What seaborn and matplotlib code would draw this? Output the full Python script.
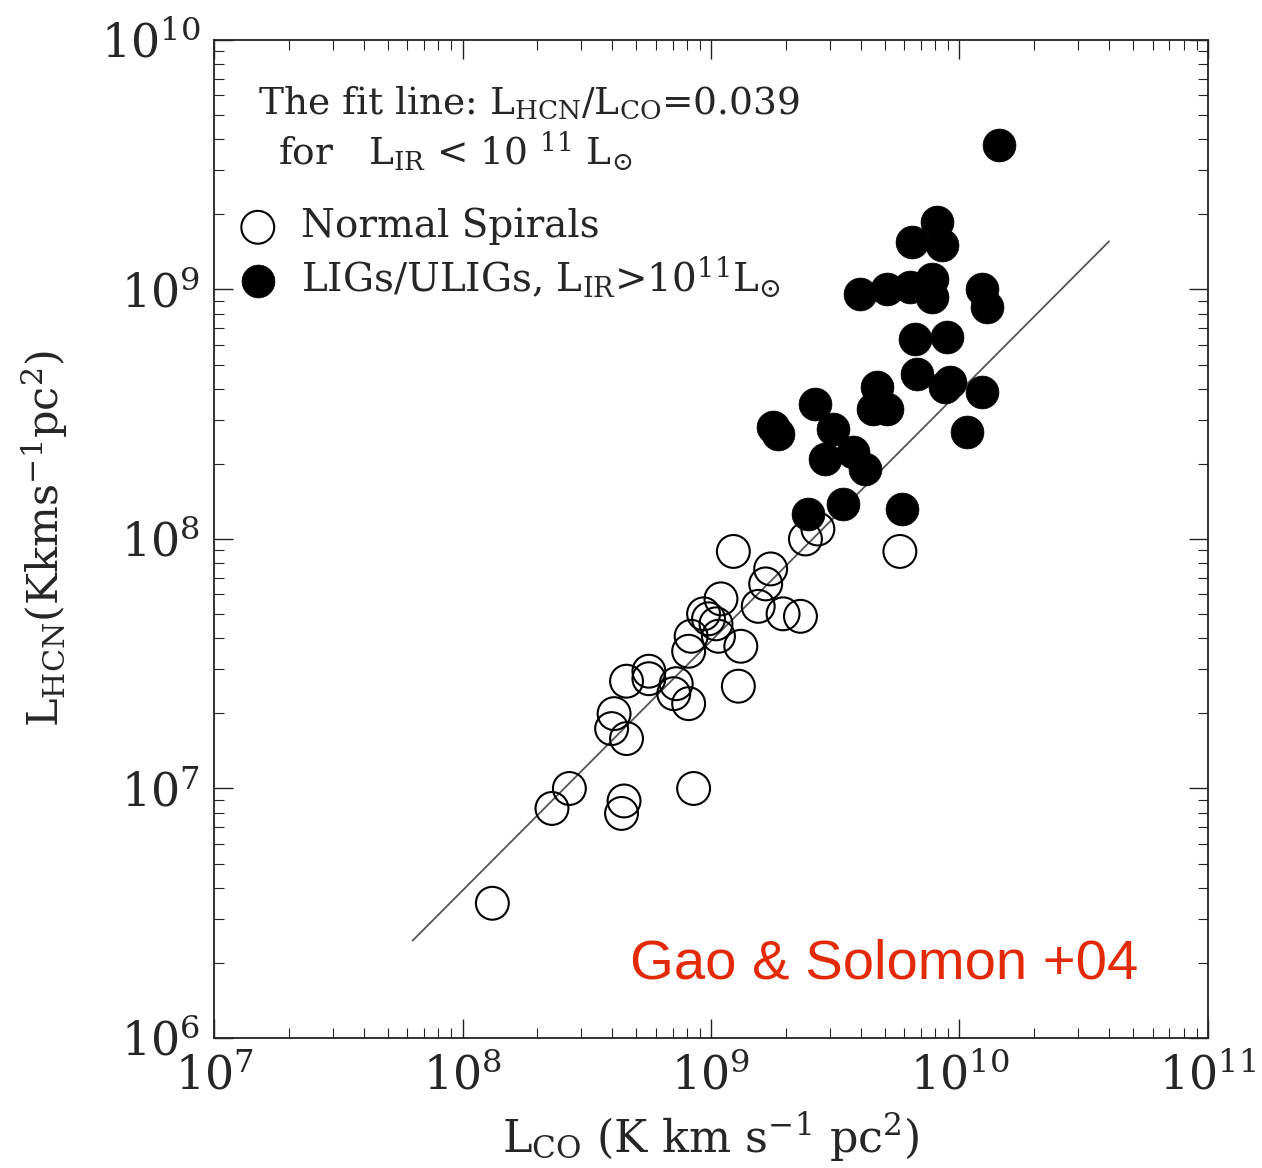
import numpy as np
import pandas as pd
import matplotlib
matplotlib.use("Agg")
import matplotlib.pyplot as plt
import seaborn as sns
from matplotlib.ticker import LogLocator, LogFormatterMathtext, NullFormatter

# ---- data (log10 values) ----
spiral_log_lco = [8.12, 8.36, 8.43, 8.65, 8.64, 8.93, 8.60, 8.61, 8.66, 8.66,
                  8.75, 8.75, 8.86, 8.85, 8.91, 8.92, 8.91, 8.97, 8.99, 9.02,
                  9.03, 9.04, 9.12, 9.11, 9.09, 9.19, 9.22, 9.24, 9.29, 9.36,
                  9.38, 9.43, 9.76]
spiral_log_lhcn = [6.54, 6.92, 7.00, 6.95, 6.90, 7.00, 7.24, 7.30, 7.20, 7.43,
                   7.47, 7.44, 7.42, 7.38, 7.34, 7.61, 7.55, 7.70, 7.68, 7.66,
                   7.61, 7.76, 7.57, 7.41, 7.95, 7.73, 7.82, 7.88, 7.70, 7.69,
                   8.00, 8.04, 7.95]

lig_log_lco = [10.16, 9.91, 9.81, 9.93, 9.89, 9.60, 9.71, 9.80, 9.89, 10.09,
               10.11, 9.82, 9.95, 9.83, 9.96, 9.94, 10.09, 10.03, 9.67, 9.65,
               9.71, 9.42, 9.25, 9.27, 9.49, 9.46, 9.57, 9.62, 9.53, 9.39, 9.77]
lig_log_lhcn = [9.58, 9.27, 9.19, 9.18, 9.04, 8.98, 9.00, 9.01, 8.97, 9.00,
                8.93, 8.80, 8.81, 8.66, 8.63, 8.61, 8.59, 8.43, 8.61, 8.52,
                8.52, 8.54, 8.45, 8.42, 8.44, 8.32, 8.35, 8.28, 8.14, 8.10, 8.12]

fit_ratio = 0.039
fit_lco_range = [6.3e7, 4.0e10]

spirals = pd.DataFrame({"LCO": 10 ** np.array(spiral_log_lco),
                        "LHCN": 10 ** np.array(spiral_log_lhcn)})
ligs = pd.DataFrame({"LCO": 10 ** np.array(lig_log_lco),
                     "LHCN": 10 ** np.array(lig_log_lhcn)})
fit = pd.DataFrame({"LCO": fit_lco_range,
                    "LHCN": [fit_ratio * v for v in fit_lco_range]})

sns.set_style("ticks")
plt.rcParams["font.family"] = ["DejaVu Serif"]
plt.rcParams["mathtext.fontset"] = "dejavuserif"

fig = plt.figure(figsize=(12.62, 11.68), dpi=100)
ax = fig.add_axes([0.1696, 0.1113, 0.7876, 0.8545])

ax.set_xscale("log")
ax.set_yscale("log")

sns.lineplot(data=fit, x="LCO", y="LHCN", ax=ax, color="#555555", linewidth=1.3)
msize = 560
sns.scatterplot(data=spirals, x="LCO", y="LHCN", ax=ax, marker="o", s=msize,
                facecolors="none", edgecolor="black", linewidth=1.5,
                label="Normal Spirals", zorder=3)
sns.scatterplot(data=ligs, x="LCO", y="LHCN", ax=ax, marker="o", s=msize,
                color="black", edgecolor="black", linewidth=0.5,
                label=r"LIGs/ULIGs, L$_{\rm IR}$>10$^{11}$L$_{\odot}$", zorder=4)

ax.set_xlim(1e7, 1e11)
ax.set_ylim(1e6, 1e10)

ax.xaxis.set_major_locator(LogLocator(base=10, numticks=10))
ax.yaxis.set_major_locator(LogLocator(base=10, numticks=10))
ax.xaxis.set_minor_locator(LogLocator(base=10, subs=np.arange(2, 10), numticks=20))
ax.yaxis.set_minor_locator(LogLocator(base=10, subs=np.arange(2, 10), numticks=20))
ax.xaxis.set_major_formatter(LogFormatterMathtext())
ax.yaxis.set_major_formatter(LogFormatterMathtext())
ax.xaxis.set_minor_formatter(NullFormatter())
ax.yaxis.set_minor_formatter(NullFormatter())

ax.tick_params(which="both", direction="in", top=True, right=True, color="#222222")
ax.tick_params(which="major", length=14, width=1.0, labelsize=33)
ax.tick_params(axis="x", which="major", pad=12)
ax.tick_params(axis="y", which="major", pad=10)
ax.tick_params(which="minor", length=7, width=0.8)
for s in ax.spines.values():
    s.set_linewidth(1.3)
    s.set_color("#222222")

ax.set_xlabel(r"L$_{\rm CO}$ (K km s$^{-1}$ pc$^2$)", fontsize=32, labelpad=8)
ax.set_ylabel(r"L$_{\rm HCN}$(Kkms$^{-1}$pc$^2$)", fontsize=31, labelpad=22)

ax.text(0.044, 0.925, r"The fit line: L$_{\rm HCN}$/L$_{\rm CO}$=0.039",
        transform=ax.transAxes, fontsize=27, ha="left", va="baseline")
ax.text(0.064, 0.875, r"for   L$_{\rm IR}$ < 10 $^{11}$ L$_{\odot}$",
        transform=ax.transAxes, fontsize=27, ha="left", va="baseline")

ax.legend(loc="upper left", bbox_to_anchor=(-0.001, 0.855), frameon=False,
          fontsize=28, handletextpad=0.55, labelspacing=0.22,
          borderaxespad=0.2, handlelength=1.1)

ax.text(0.9296, 0.060, "Gao & Solomon +04", transform=ax.transAxes,
        fontsize=40.5, color="#e32a08", family=["Liberation Sans", "DejaVu Sans"],
        ha="right", va="baseline")

fig.savefig("out.png", dpi=100)
